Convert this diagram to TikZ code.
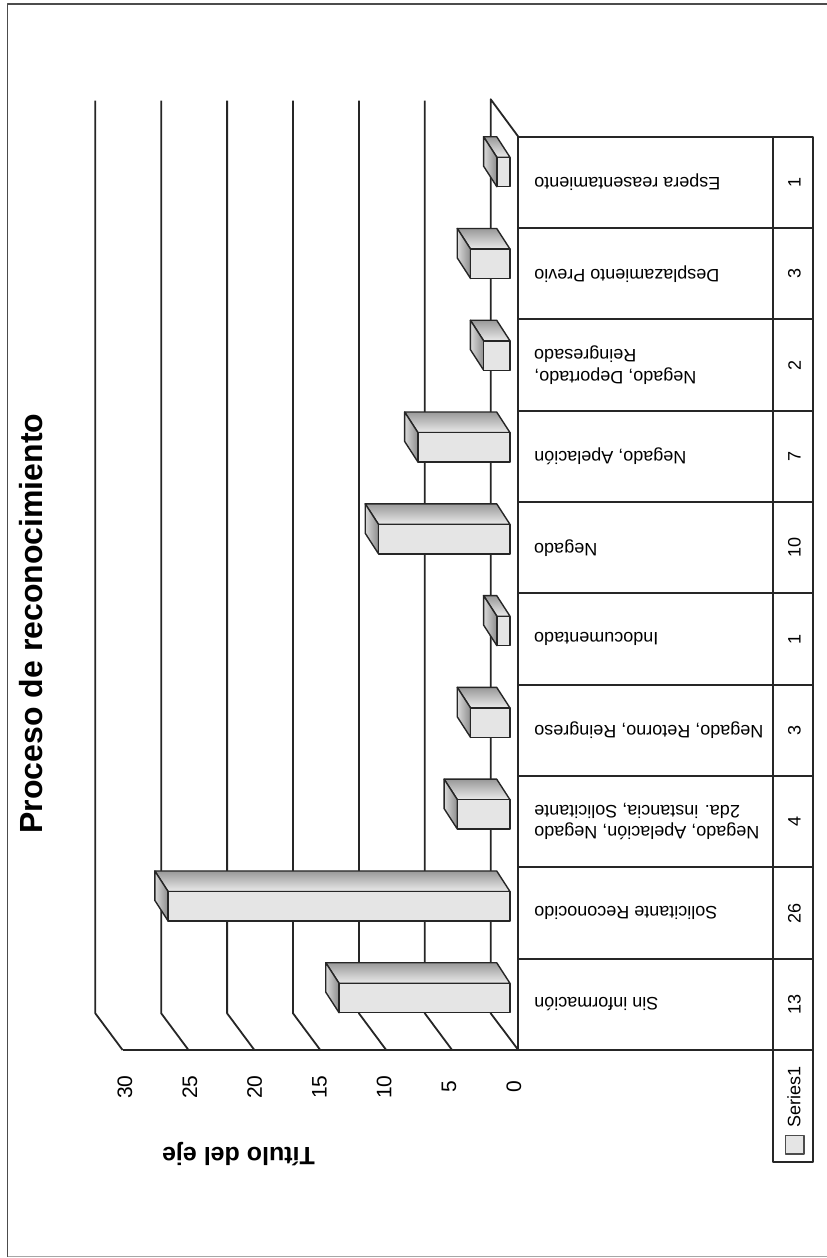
\documentclass[tikz,border=0pt]{standalone}
\usepackage{fontspec}
\setmainfont{Liberation Sans}
\begin{document}
\begin{tikzpicture}[x=1pt,y=-1pt,line join=round,
  gridline/.style={line width=1.8pt,black!85},
  tableline/.style={line width=1.8pt,black!85},
  barline/.style={line width=1.4pt,black!85},
  catlab/.style={rotate=180,anchor=east,align=right,inner sep=0pt,font=\fontsize{18}{21.5}\selectfont},
  vallab/.style={rotate=90,inner sep=0pt,font=\fontsize{18}{21.5}\selectfont},
  ticklab/.style={rotate=90,inner sep=0pt,font=\fontsize{21}{24}\selectfont},
  titlelab/.style={rotate=90,inner sep=0pt,font=\bfseries\fontsize{32}{36}\selectfont},
  axtitle/.style={rotate=180,inner sep=0pt,font=\bfseries\fontsize{25}{28}\selectfont}]
\useasboundingbox (0,0) rectangle (827,1258);
\fill[white] (0,0) rectangle (827,1258);
% outer frame
\draw[black!70,line width=1.3pt] (7.5,1256.5) -- (7.5,4) -- (827,4);
\draw[black!35,line width=1.3pt] (7.5,1256.5) -- (827,1256.5);
% back wall gridlines and side diagonals
\foreach \k in {0,...,5}{
  \pgfmathsetmacro\xb{95.3+\k*65.9}
  \draw[gridline] (\xb,100.7) -- (\xb,1013.3) -- (\xb+27.3,1050);
}
\coordinate (wallTop) at (490.7,99.3);
\coordinate (wallBot) at (490.7,1013.3);
\coordinate (frontTop) at (518.3,136.7);
\coordinate (frontBot) at (518.3,1050);
\coordinate (floorEnd) at (122.6,1050);
\draw[gridline] (frontTop) -- (wallTop) -- (wallBot) -- (frontBot);
\draw[gridline] (floorEnd) -- (frontBot);
% bars
\foreach \i/\v in {0/1,1/3,2/2,3/7,4/10,5/1,6/3,7/4,8/26,9/13}{
  \pgfmathsetmacro\ft{157.3+\i*91.78}
  \pgfmathsetmacro\fb{\ft+29.4}
  \pgfmathsetmacro\xl{510-13.15*\v}
  \pgfmathsetmacro\bt{\ft-20.6}
  \pgfmathsetmacro\bb{\fb-20.6}
  \pgfmathsetmacro\xbl{\xl-13.3}
  \shade[top color=black!40,bottom color=black!8] (\xl,\ft) -- (510,\ft) -- (496.7,\bt) -- (\xbl,\bt) -- cycle;
  \draw[barline] (\xl,\ft) -- (510,\ft) -- (496.7,\bt) -- (\xbl,\bt) -- cycle;
  \shade[left color=black!15,right color=black!45] (\xbl,\bt) -- (\xl,\ft) -- (\xl,\fb) -- (\xbl,\bb) -- cycle;
  \draw[barline] (\xbl,\bt) -- (\xl,\ft) -- (\xl,\fb) -- (\xbl,\bb) -- cycle;
  \draw[barline,fill=black!10] (\xl,\ft) rectangle (510,\fb);
}
% data table
\draw[tableline] (518.3,136.7) rectangle (813.3,1050);
\draw[tableline] (773.3,136.7) -- (773.3,1161.7);
\foreach \i in {1,...,9}{
  \pgfmathsetmacro\yr{136.7+\i*91.33}
  \draw[tableline] (518.3,\yr) -- (813.3,\yr);
}
\draw[tableline] (773.3,1050) rectangle (813.3,1161.7);
\foreach \i/\lab/\v in {
 0/{Espera reasentamiento}/1,
 1/{Desplazamiento Previo}/3,
 2/{Negado, Deportado,\\Reingresado}/2,
 3/{Negado, Apelación}/7,
 4/{Negado}/10,
 5/{Indocumentado}/1,
 6/{Negado, Retorno, Reingreso}/3,
 7/{Negado, Apelación, Negado\\2da. instancia, Solicitante}/4,
 8/{Solicitante Reconocido}/26,
 9/{Sin información}/13}{
  \pgfmathsetmacro\rc{136.7+(\i+0.5)*91.33}
  \node[catlab] (cat\i) at (534,\rc) {\lab};
  \node[vallab] (val\i) at (794.5,\rc) {\v};
}
% legend
\draw[line width=1.2pt,black!70,fill=black!10] (785.7,1135.5) rectangle (804,1154);
\node[vallab] (series) at (793.9,1096.7) {Series1};
% value axis labels
\foreach \k/\t in {0/30,1/25,2/20,3/15,4/10,5/5,6/0}{
  \node[ticklab] (tick\k) at (125+\k*64.8,1087) {\t};
}
\node[axtitle] (axtitle) at (238.5,1154) {Título del eje};
\node[titlelab] (title) at (31.5,623.5) {Proceso de reconocimiento};
\end{tikzpicture}
\end{document}
